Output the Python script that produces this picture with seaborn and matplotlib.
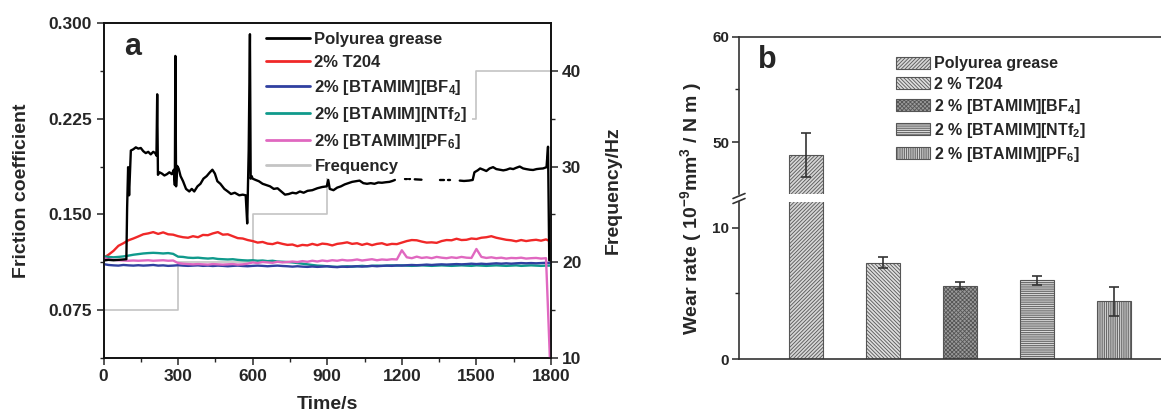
import numpy as np
import pandas as pd
import matplotlib
matplotlib.use("Agg")
import matplotlib.pyplot as plt
import seaborn as sns
from matplotlib.lines import Line2D
from matplotlib.patches import Patch
from matplotlib.ticker import MultipleLocator, FixedLocator

# ---------------- data: friction test (panel a) ----------------
time_s = list(range(0, 1800, 20)) + [1797]

mu_t204 = [
    0.1160, 0.1185, 0.1215, 0.1255, 0.1275, 0.1298, 0.1312, 0.1328, 0.1345, 0.1352,
    0.1362, 0.1348, 0.1360, 0.1345, 0.1342, 0.1330, 0.1322, 0.1318, 0.1330, 0.1322,
    0.1340, 0.1338, 0.1352, 0.1362, 0.1342, 0.1345, 0.1330, 0.1315, 0.1312, 0.1300,
    0.1292, 0.1280, 0.1285, 0.1272, 0.1268, 0.1280, 0.1270, 0.1262, 0.1265, 0.1252,
    0.1262, 0.1258, 0.1270, 0.1260, 0.1272, 0.1268, 0.1258, 0.1270, 0.1275, 0.1282,
    0.1270, 0.1275, 0.1262, 0.1272, 0.1260, 0.1270, 0.1275, 0.1262, 0.1270, 0.1268,
    0.1280, 0.1292, 0.1300, 0.1298, 0.1288, 0.1280, 0.1282, 0.1278, 0.1292, 0.1300,
    0.1298, 0.1310, 0.1300, 0.1302, 0.1312, 0.1308, 0.1318, 0.1322, 0.1330, 0.1318,
    0.1310, 0.1302, 0.1298, 0.1290, 0.1300, 0.1292, 0.1298, 0.1302, 0.1295, 0.1305,
    0.1290]

mu_bf4 = [
    0.1112, 0.1105, 0.1102, 0.1100, 0.1105, 0.1102, 0.1100, 0.1103, 0.1100, 0.1102,
    0.1105, 0.1100, 0.1102, 0.1098, 0.1100, 0.1103, 0.1100, 0.1098, 0.1100, 0.1102,
    0.1098, 0.1100, 0.1097, 0.1100, 0.1098, 0.1095, 0.1098, 0.1100, 0.1097, 0.1095,
    0.1098, 0.1100, 0.1098, 0.1095, 0.1098, 0.1100, 0.1097, 0.1095, 0.1092, 0.1095,
    0.1092, 0.1090, 0.1093, 0.1090, 0.1092, 0.1095, 0.1090, 0.1088, 0.1092, 0.1090,
    0.1093, 0.1095, 0.1092, 0.1095, 0.1098, 0.1095, 0.1098, 0.1100, 0.1098, 0.1102,
    0.1100, 0.1103, 0.1105, 0.1103, 0.1105, 0.1108, 0.1105, 0.1108, 0.1110, 0.1108,
    0.1110, 0.1112, 0.1110, 0.1112, 0.1115, 0.1112, 0.1115, 0.1112, 0.1115, 0.1118,
    0.1115, 0.1118, 0.1115, 0.1118, 0.1120, 0.1118, 0.1120, 0.1118, 0.1120, 0.1122,
    0.1120]

mu_ntf2 = [
    0.1172, 0.1168, 0.1165, 0.1168, 0.1172, 0.1178, 0.1185, 0.1190, 0.1195, 0.1198,
    0.1200, 0.1198, 0.1195, 0.1198, 0.1192, 0.1170, 0.1168, 0.1162, 0.1160, 0.1162,
    0.1158, 0.1155, 0.1158, 0.1152, 0.1150, 0.1148, 0.1150, 0.1145, 0.1142, 0.1140,
    0.1142, 0.1138, 0.1140, 0.1135, 0.1138, 0.1132, 0.1130, 0.1128, 0.1125, 0.1120,
    0.1115, 0.1110, 0.1105, 0.1100, 0.1098, 0.1095, 0.1092, 0.1090, 0.1092, 0.1095,
    0.1092, 0.1095, 0.1098, 0.1095, 0.1098, 0.1100, 0.1098, 0.1100, 0.1102, 0.1100,
    0.1102, 0.1100, 0.1098, 0.1100, 0.1102, 0.1100, 0.1098, 0.1100, 0.1102, 0.1100,
    0.1098, 0.1100, 0.1102, 0.1100, 0.1098, 0.1102, 0.1100, 0.1098, 0.1100, 0.1102,
    0.1100, 0.1098, 0.1100, 0.1102, 0.1098, 0.1100, 0.1102, 0.1100, 0.1098, 0.1100,
    0.1100]

mu_pf6 = [
    0.1158, 0.1150, 0.1145, 0.1142, 0.1140, 0.1138, 0.1140, 0.1138, 0.1140, 0.1142,
    0.1138, 0.1140, 0.1142, 0.1138, 0.1140, 0.1120, 0.1115, 0.1112, 0.1110, 0.1112,
    0.1110, 0.1108, 0.1112, 0.1110, 0.1108, 0.1110, 0.1112, 0.1108, 0.1110, 0.1115,
    0.1125, 0.1120, 0.1128, 0.1125, 0.1122, 0.1130, 0.1125, 0.1128, 0.1132, 0.1128,
    0.1135, 0.1130, 0.1138, 0.1132, 0.1140, 0.1135, 0.1142, 0.1138, 0.1145, 0.1140,
    0.1142, 0.1148, 0.1140, 0.1145, 0.1150, 0.1142, 0.1148, 0.1145, 0.1150, 0.1148,
    0.1220, 0.1165, 0.1158, 0.1170, 0.1160, 0.1165, 0.1158, 0.1168, 0.1162, 0.1158,
    0.1165, 0.1160, 0.1168, 0.1162, 0.1160, 0.1230, 0.1168, 0.1160, 0.1165, 0.1158,
    0.1162, 0.1155, 0.1160, 0.1158, 0.1162, 0.1155, 0.1158, 0.1160, 0.1155, 0.1158,
    0.0300]

# base grease: own sampling, NaN marks dropouts in the record
grease_time = [
    0, 20, 40, 60, 80, 92, 95, 99, 103, 110, 120, 130, 140, 150, 160, 170, 180, 190,
    200, 208, 213, 216, 219, 225, 235, 245, 255, 265, 275, 283, 287, 289, 292, 296,
    302, 310, 320, 332, 345, 355, 365, 378, 390, 402, 415, 428, 438, 448, 458, 470,
    486, 500, 513, 528, 546, 560, 572, 578, 584, 589, 592, 596, 600, 612, 625, 640,
    655, 670, 685, 700, 715, 730, 745, 760, 775, 790, 805, 821, 840, 860, 880, 898,
    904, 910, 925, 940, 955, 970, 985, 1000, 1015, 1030, 1045, 1060, 1075, 1090,
    1105, 1120, 1135, 1150, 1162, 1172, 1180, 1214, 1220, 1226, 1230, 1234, 1240,
    1252, 1279, 1285, 1353, 1369, 1375, 1386, 1393, 1400, 1433, 1450, 1470, 1485,
    1492, 1505, 1515, 1528, 1540, 1553, 1567, 1580, 1594, 1608, 1621, 1635, 1648,
    1660, 1674, 1688, 1700, 1715, 1728, 1742, 1755, 1768, 1782, 1788, 1793]
grease_mu = [
    0.1140, 0.1145, 0.1142, 0.1145, 0.1148, 0.1150, 0.1550, 0.1870, 0.1650, 0.2000,
    0.2010, 0.2025, 0.2015, 0.2020, 0.1995, 0.1980, 0.1990, 0.1970, 0.1990, 0.1980,
    0.1960, 0.2440, 0.1810, 0.1830, 0.1820, 0.1805, 0.1815, 0.1830, 0.1815, 0.1850,
    0.1730, 0.2740, 0.1720, 0.1880, 0.1860, 0.1800, 0.1760, 0.1700, 0.1680, 0.1700,
    0.1680, 0.1720, 0.1740, 0.1780, 0.1800, 0.1830, 0.1850, 0.1820, 0.1760, 0.1740,
    0.1700, 0.1680, 0.1660, 0.1670, 0.1650, 0.1655, 0.1650, 0.1430, 0.2000, 0.2910,
    0.1780, 0.1800, 0.1780, 0.1770, 0.1760, 0.1740, 0.1730, 0.1720, 0.1700, 0.1705,
    0.1680, 0.1655, 0.1660, 0.1670, 0.1665, 0.1680, 0.1670, 0.1685, 0.1690, 0.1705,
    0.1715, 0.1720, 0.1770, 0.1700, 0.1690, 0.1710, 0.1720, 0.1735, 0.1745, 0.1755,
    0.1760, 0.1765, 0.1745, 0.1740, 0.1745, 0.1740, 0.1750, 0.1748, 0.1752, 0.1755,
    0.1762, 0.1770, np.nan, 0.1780, 0.1780, np.nan, 0.1780, 0.1780, np.nan,
    0.1775, 0.1772, np.nan, 0.1772, 0.1772, np.nan, 0.1772, 0.1772, np.nan,
    0.1765, 0.1762, 0.1765, 0.1770, 0.1830, 0.1845, 0.1860, 0.1850, 0.1840, 0.1860,
    0.1870, 0.1855, 0.1850, 0.1845, 0.1850, 0.1860, 0.1855, 0.1865, 0.1875, 0.1860,
    0.1855, 0.1850, 0.1848, 0.1855, 0.1858, 0.1860, 0.1870, 0.2030, 0.1140]

freq_time = [0, 300, 600, 900, 1200, 1500, 1800]
freq_hz = [15, 20, 25, 30, 35, 40, 40]

# ---------------- data: wear rate (panel b) ----------------
samples = ["Polyurea grease", "2 % T204", "2 % [BTAMIM][BF$_4$]",
           "2 % [BTAMIM][NTf$_2$]", "2 % [BTAMIM][PF$_6$]"]
wear_rate = [48.8, 7.35, 5.6, 6.0, 4.4]
wear_err = [2.1, 0.4, 0.25, 0.35, 1.1]

# ---------------- style ----------------
sns.set_style("ticks")
plt.rcParams["font.family"] = ["Liberation Sans", "DejaVu Sans"]
plt.rcParams["font.weight"] = "bold"
plt.rcParams["axes.labelweight"] = "bold"
plt.rcParams["mathtext.fontset"] = "custom"
plt.rcParams["mathtext.rm"] = "Liberation Sans:bold"
plt.rcParams["mathtext.bf"] = "Liberation Sans:bold"
plt.rcParams["mathtext.it"] = "Liberation Sans:bold:italic"
plt.rcParams["mathtext.default"] = "rm"
plt.rcParams["hatch.linewidth"] = 0.6

W, H = 1161, 415
fig = plt.figure(figsize=(W / 100, H / 100), dpi=100)


def fx(px):
    return px / W


def fy(py):
    return 1 - py / H


# ================= panel a =================
ax = fig.add_axes([fx(103.5), fy(358.3), fx(551 - 103.5), (358.3 - 22.7) / H])
ax2 = ax.twinx()
ax.set_zorder(2)
ax2.set_zorder(1)
ax.patch.set_visible(False)

colors = {"grease": "#000000", "t204": "#f02828", "bf4": "#3040a0",
          "ntf2": "#109a8c", "pf6": "#e068c0", "freq": "#c4c4c4"}
LW = 1.7

sns.lineplot(x=freq_time, y=freq_hz, ax=ax2, color=colors["freq"], lw=1.2,
             drawstyle="steps-post", estimator=None, sort=False)

for vals, key in [(mu_t204, "t204"), (mu_ntf2, "ntf2"), (mu_bf4, "bf4"), (mu_pf6, "pf6")]:
    sns.lineplot(x=time_s, y=vals, ax=ax, color=colors[key], lw=LW,
                 estimator=None, sort=False)

g = pd.DataFrame({"t": grease_time, "mu": grease_mu})
g["seg"] = g["mu"].isna().cumsum()
g = g.dropna()
sns.lineplot(data=g, x="t", y="mu", units="seg", estimator=None, sort=False,
             ax=ax, color=colors["grease"], lw=LW)

ax.set_xlim(0, 1800)
ax.set_ylim(0.0375, 0.300)
ax2.set_ylim(10, 45)
ax.xaxis.set_major_locator(MultipleLocator(300))
ax.xaxis.set_minor_locator(MultipleLocator(150))
ax.yaxis.set_major_locator(FixedLocator([0.075, 0.150, 0.225, 0.300]))
ax.yaxis.set_minor_locator(FixedLocator([0.0375, 0.1125, 0.1875, 0.2625]))
ax.yaxis.set_major_formatter(matplotlib.ticker.FormatStrFormatter("%.3f"))
ax2.yaxis.set_major_locator(FixedLocator([10, 20, 30, 40]))
ax2.yaxis.set_minor_locator(FixedLocator([15, 25, 35]))

for a in (ax, ax2):
    for s in a.spines.values():
        s.set_linewidth(1.2)
        s.set_color("#111111")
    a.tick_params(which="major", length=5, width=1.1, labelsize=12.5, direction="out")
    a.tick_params(which="minor", length=3, width=1.0, direction="out")
ax.tick_params(axis="x", which="both", top=False, pad=3)
ax.tick_params(axis="y", which="both", right=False)
ax2.tick_params(axis="y", which="both", left=False, pad=3)

ax.set_xlabel("Time/s", fontsize=14, fontweight="bold")
ax.set_ylabel("Friction coefficient", fontsize=14, fontweight="bold")
ax2.set_ylabel("Frequency/Hz", fontsize=14, fontweight="bold")
ax.xaxis.set_label_coords(0.5, -0.112)
ax.yaxis.set_label_coords(-0.165, 0.5)
ax2.yaxis.set_label_coords(1.12, 0.5)

ax.text(0.064, 0.928, "a", transform=ax.transAxes, fontsize=22,
        fontweight="bold", ha="center", va="center")

handles_a = [Line2D([], [], color=colors[k], lw=2.0)
             for k in ["grease", "t204", "bf4", "ntf2", "pf6", "freq"]]
labels_a = ["Polyurea grease", "2% T204", "2% [BTAMIM][BF$_4$]",
            "2% [BTAMIM][NTf$_2$]", "2% [BTAMIM][PF$_6$]", "Frequency"]
leg = ax.legend(handles_a, labels_a, loc="upper left",
                bbox_to_anchor=((262 - 103.5) / 447.5, (358.3 - 28) / 335.6),
                borderaxespad=0, fontsize=12, handlelength=2.6, handletextpad=0.3,
                labelspacing=0.48, borderpad=0.25, frameon=True, fancybox=False,
                framealpha=1, facecolor="white", edgecolor="none")
for t in leg.get_texts():
    t.set_fontweight("bold")

# ================= panel b (broken value axis) =================
bx_left, bx_right = fx(739), fx(1181)
ax_lo = fig.add_axes([bx_left, fy(359), bx_right - bx_left, (359 - 201.7) / H])
ax_hi = fig.add_axes([bx_left, fy(194), bx_right - bx_left, (194 - 36.7) / H])

hatches = ["/////////", "\\\\\\\\\\\\\\\\\\", "xxxxxxxx", "---------", "|||||||||"]
faces = ["#d6d6d6", "#dedede", "#9a9a9a", "#dcdcdc", "#d6d6d6"]

for a in (ax_lo, ax_hi):
    sns.barplot(x=samples, y=wear_rate, ax=a, width=0.43, errorbar=None,
                color="#d0d0d0", saturation=1)
    for p, h, fc in zip(a.patches, hatches, faces):
        p.set_facecolor(fc)
        p.set_edgecolor("#555555")
        p.set_hatch(h)
        p.set_linewidth(0.8)
    a.errorbar(range(len(samples)), wear_rate, yerr=wear_err, fmt="none",
               ecolor="#333333", elinewidth=1.2, capsize=3.5, capthick=1.2)
    a.set_xlim(-0.87, 4.87)
    a.set_xlabel("")
    a.set_ylabel("")
    a.set_xticks([])
    for s in a.spines.values():
        s.set_linewidth(1.2)
        s.set_color("#333333")
    a.spines["right"].set_visible(False)
    a.tick_params(axis="y", which="major", length=5, width=1.1, labelsize=11, pad=2)
    a.tick_params(axis="y", which="minor", length=3, width=1.0)

ax_lo.set_ylim(0, 12)
ax_lo.spines["top"].set_visible(False)
ax_lo.yaxis.set_major_locator(FixedLocator([0, 10]))
ax_lo.yaxis.set_minor_locator(FixedLocator([5]))

ax_hi.set_ylim(45.1, 60)
ax_hi.spines["bottom"].set_visible(False)
ax_hi.spines["top"].set_visible(True)
ax_hi.yaxis.set_major_locator(FixedLocator([50, 60]))
ax_hi.yaxis.set_minor_locator(FixedLocator([55]))

# break marks on the value axis
for yc in (196.0, 201.0):
    fig.add_artist(Line2D([fx(733), fx(745)], [fy(yc + 2.5), fy(yc - 2.5)],
                          color="#333333", lw=1.2))

fig.text(fx(691), fy(208.5), "Wear rate ( 10$^{-9}$mm$^{3}$ / N m )",
         rotation=90, ha="center", va="center", fontsize=14, fontweight="bold")
fig.text(fx(767), fy(60), "b", fontsize=22, fontweight="bold",
         ha="center", va="center")

handles_b = [Patch(facecolor=fc, edgecolor="#555555", hatch=h, lw=0.8)
             for fc, h in zip(faces, hatches)]
leg_b = fig.legend(handles_b, samples, loc="upper left",
                   bbox_to_anchor=(fx(890), fy(50)), borderaxespad=0,
                   fontsize=11.5, handlelength=2.1, handleheight=0.8,
                   handletextpad=0.25, labelspacing=0.32, frameon=False)
for t in leg_b.get_texts():
    t.set_fontweight("bold")

fig.savefig("out.png", dpi=100)
